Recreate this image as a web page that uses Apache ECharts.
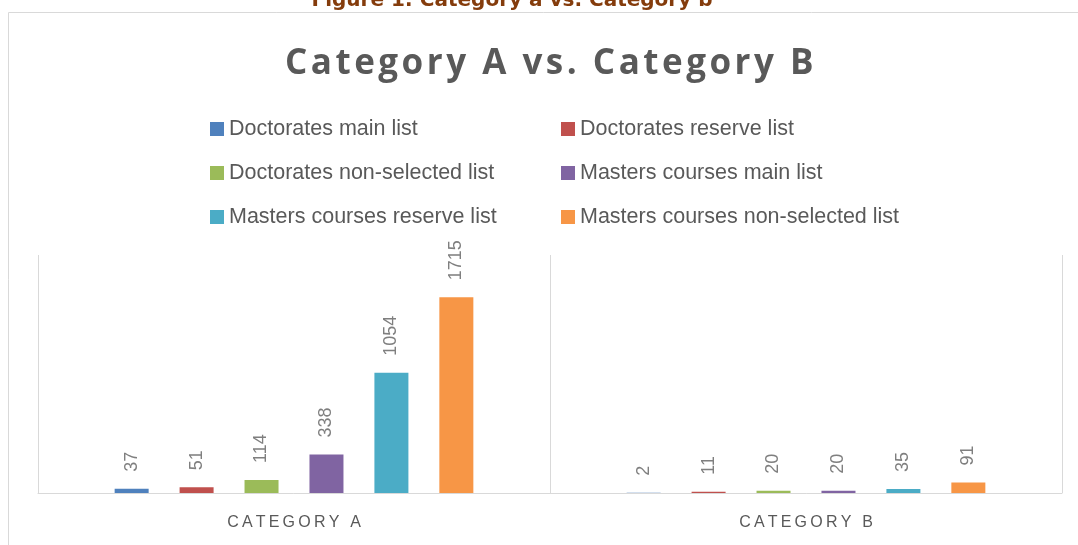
<!DOCTYPE html>
<html><head><meta charset="utf-8">
<script src="https://cdn.jsdelivr.net/npm/echarts@6/dist/echarts.min.js"></script>
<style>html,body{margin:0;padding:0;background:#fff;}#c{width:1078px;height:545px;}</style>
</head><body><div id="c"></div>
<script>
const figureCaption = 'Figure 1: Category a vs. Category b';
const chartTitle = 'Category A vs. Category B';
const categories = ['Category A', 'Category B'];
const seriesNames = ['Doctorates main list','Doctorates reserve list','Doctorates non-selected list','Masters courses main list','Masters courses reserve list','Masters courses non-selected list'];
const doctoratesMain = [37, 2];
const doctoratesReserve = [51, 11];
const doctoratesNonSelected = [114, 20];
const mastersMain = [338, 20];
const mastersReserve = [1054, 35];
const mastersNonSelected = [1715, 91];
const seriesValues = [doctoratesMain, doctoratesReserve, doctoratesNonSelected, mastersMain, mastersReserve, mastersNonSelected];
const colors = ['#4f81bd','#c0504d','#9bbb59','#8064a2','#4bacc6','#f79646'];

const spaced = (s, sep) => s.split('').join(sep);
const chart = echarts.init(document.getElementById('c'));
const legendText = {fontFamily:'Liberation Sans', fontSize:21.5, color:'#595959'};
chart.setOption({
  animation:false,
  color: colors,
  title: {text: spaced(chartTitle, '\u200A'), left:280, top:42, textStyle:{fontFamily:'Open Sans', fontWeight:'bold', fontSize:35, color:'#595959'}},
  graphic: [
    {type:'rect', shape:{x:8.5, y:12.5, width:1200, height:700}, style:{fill:'none', stroke:'#d9d9d9', lineWidth:1}, silent:true},
    {type:'text', x:512, y:1, style:{text: figureCaption, font:'bold 20px "DejaVu Sans"', fill:'#843c0c', align:'center', verticalAlign:'middle'}}
  ],
  legend: [
    {data:[seriesNames[0], seriesNames[2], seriesNames[4]], orient:'vertical', left:205, top:113, itemWidth:14, itemHeight:14, itemGap:22, icon:'rect', textStyle:legendText},
    {data:[seriesNames[1], seriesNames[3], seriesNames[5]], orient:'vertical', left:556, top:113, itemWidth:14, itemHeight:14, itemGap:22, icon:'rect', textStyle:legendText}
  ],
  grid: {left:38, right:16, top:255, bottom:52, containLabel:false},
  xAxis: {type:'category', data: categories,
    axisLine:{lineStyle:{color:'#d9d9d9', width:1}},
    axisTick:{show:false},
    splitLine:{show:true, lineStyle:{color:'#d9d9d9', width:1}},
    axisLabel:{margin:22, fontFamily:'Liberation Sans', fontSize:16, color:'#595959',
      formatter: v => spaced(v.toUpperCase(), '\u2009')}
  },
  yAxis: {type:'value', min:0, max:2085, show:false, splitLine:{show:false}},
  series: seriesNames.map((n,i)=>({
    name:n, type:'bar', data: seriesValues[i], barWidth:34, barGap:'91%',
    label:{show:true, position:'top', rotate:90, align:'left', verticalAlign:'middle', distance:17,
      fontFamily:'Liberation Sans', fontSize:18, color:'#7f7f7f'}
  }))
});
</script></body></html>
